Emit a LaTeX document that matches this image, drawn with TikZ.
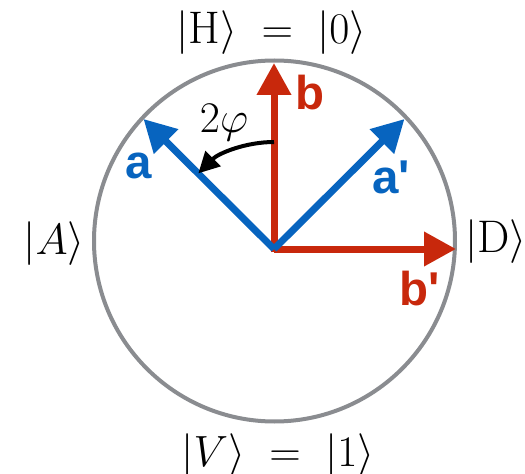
\documentclass[tikz,border=0pt]{standalone}
\usepackage{fontspec}
\newfontfamily\vecfont{Liberation Sans}
\usepackage{tikz}
\usetikzlibrary{arrows.meta}
\definecolor{polred}{HTML}{C8280C}
\definecolor{polblue}{HTML}{0764BF}
\definecolor{ringgray}{HTML}{8A8C90}
\tikzset{
  vecarrow/.style={line width=0.14cm, -{Triangle[length=0.64cm,width=0.66cm]}},
  phiarrow/.style={line width=0.08cm, -{Triangle[length=0.42cm,width=0.42cm]}},
  ketlabel/.style={inner sep=0pt, font=\fontsize{26}{30}\selectfont},
  veclabel/.style={inner sep=0pt, anchor=base, font=\vecfont\bfseries\fontsize{27}{30}\selectfont}
}

\begin{document}
\begin{tikzpicture}
        \useasboundingbox (0,0) rectangle (10.5,9.46);

        % Círculo de estados
        \node[circle, draw=ringgray, line width=0.08cm, minimum size=7.22cm] (ring) at (5.49,4.64) {};

        % Puntos de los vectores
        \coordinate (O) at (5.48,4.48);
        \coordinate (Ob) at (5.48,4.41);
        \coordinate (tipb) at (5.48,8.20);
        \coordinate (tipbp) at (9.12,4.48);
        \coordinate (tipa) at (2.87,7.08);
        \coordinate (tipap) at (8.09,7.08);
        \coordinate (phistart) at (5.48,6.62);

        % Vectores b y b'
        \draw[vecarrow, polred] (Ob) -- (tipb);
        \draw[vecarrow, polred] (O) -- (tipbp);

        % Vectores a y a'
        \draw[vecarrow, polblue] (O) -- (tipa);
        \draw[vecarrow, polblue] (O) -- (tipap);

        % Flecha del ángulo
        \draw[phiarrow] (phistart) arc[start angle=90, end angle=135, radius=2.14cm];
        \node[ketlabel, anchor=base] (phi) at (4.48,6.80) {$2\varphi$};

        % Etiquetas de los vectores
        \node[veclabel, polblue] (la) at (2.78,5.88) {a};
        \node[veclabel, polblue] (lap) at (7.82,5.58) {a'};
        \node[veclabel, polred] (lb) at (6.20,7.26) {b};
        \node[veclabel, polred] (lbp) at (8.40,3.36) {b'};

        % Estados de la base
        \node[ketlabel] (kH) at (5.43,8.81) {$|\mathrm{H}\rangle \;=\; |0\rangle$};
        \node[ketlabel] (kV) at (5.56,0.34) {$|V\rangle \;=\; |1\rangle$};
        \node[ketlabel] (kA) at (1.08,4.58) {$|A\rangle$};
        \node[ketlabel, anchor=west] (kD) at (9.30,4.62) {$|\mathrm{D}\rangle$};
    \end{tikzpicture}
\end{document}
